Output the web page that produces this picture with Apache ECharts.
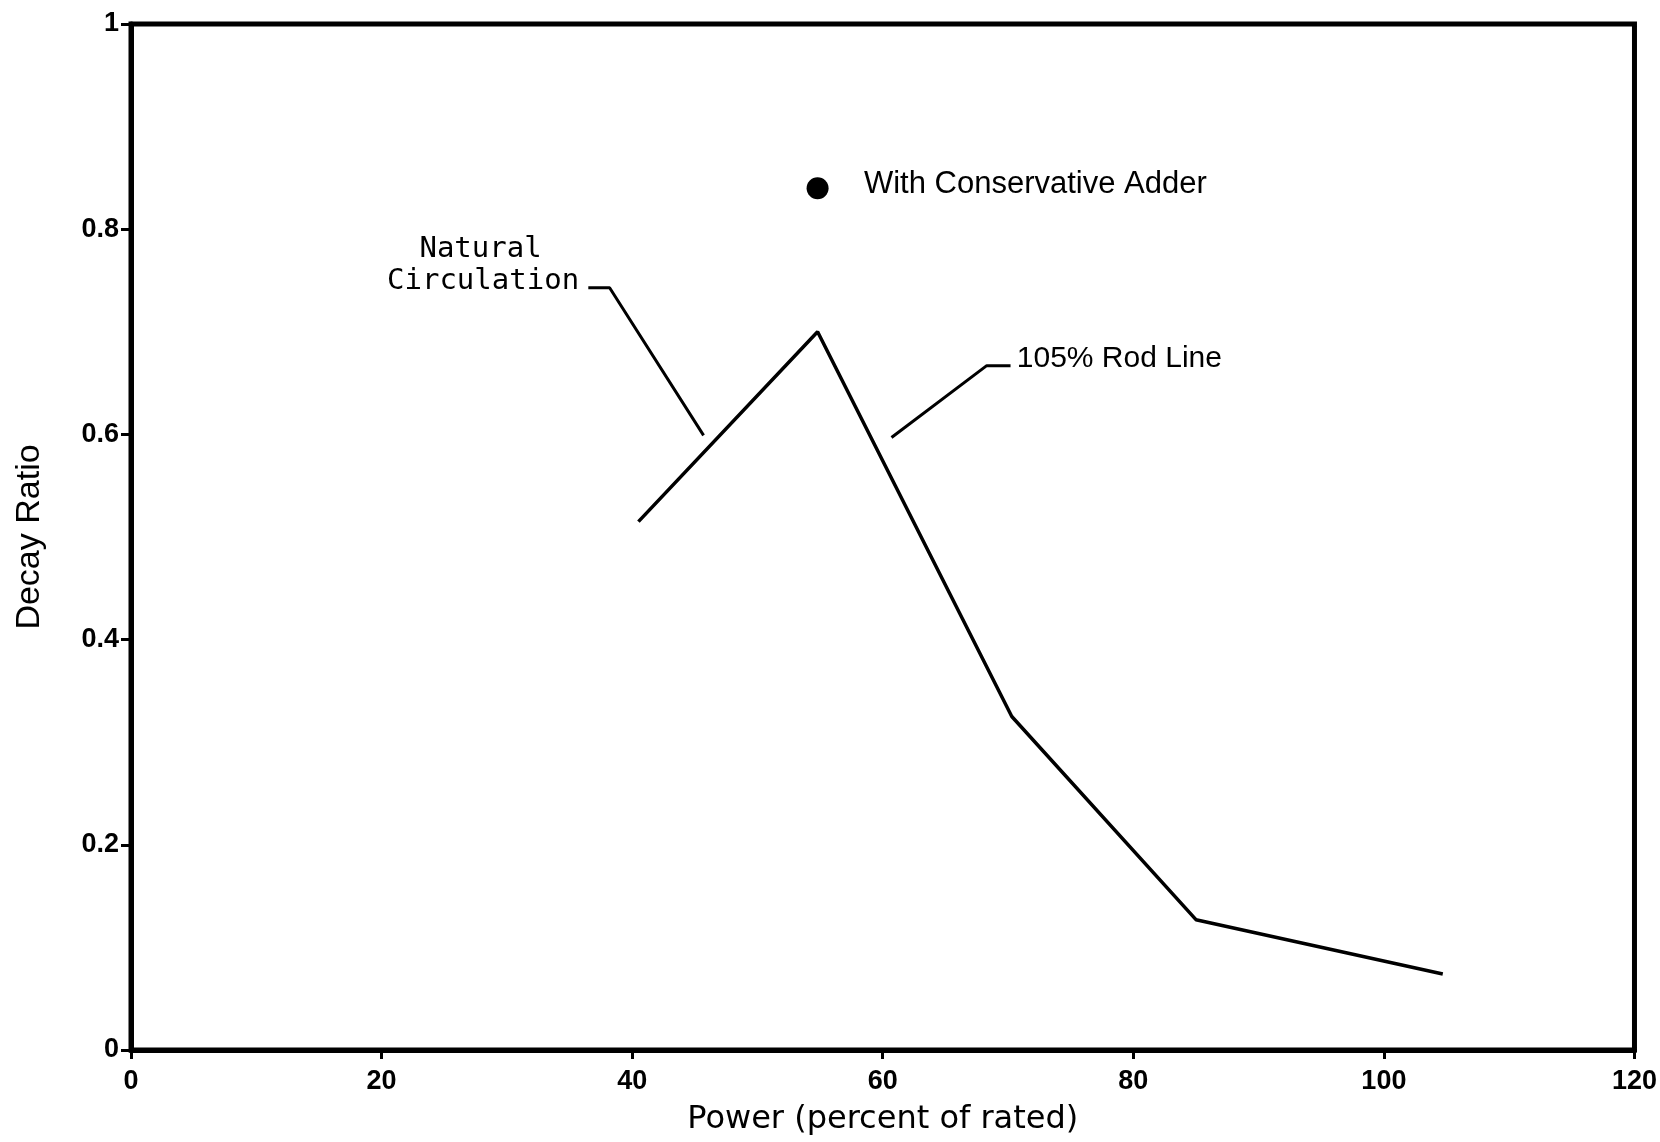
<!DOCTYPE html>
<html>
<head>
<meta charset="utf-8">
<script src="https://cdn.jsdelivr.net/npm/echarts@6/dist/echarts.min.js"></script>
<style>
html,body{margin:0;padding:0;background:#fff;}
#chart{width:1660px;height:1142px;}
</style>
</head>
<body>
<div id="chart"></div>
<script>
// ---- data ----
const powerPct   = [40.5, 54.8, 70.3, 85, 104.7];
const decayRatio = [0.515, 0.70, 0.325, 0.127, 0.074];
const adderPoint = [[54.8, 0.84]];
// annotation leader lines (data units)
const ncLeader  = [[36.5, 0.743], [38.2, 0.743], [45.7, 0.599]];
const rodLeader = [[70.2, 0.667], [68.3, 0.667], [60.7, 0.597]];
// annotation texts (data units anchors)
const annNatural  = {text: 'Natural',      at: [27.9, 0.780]};
const annCirc     = {text: 'Circulation',  at: [28.1, 0.749]};
const annAdder    = {text: 'With Conservative Adder', at: [58.5, 0.844]};
const annRod      = {text: '105% Rod Line', at: [70.7, 0.674]};
const xAxisName = 'Power (percent of rated)';
const yAxisName = 'Decay Ratio';

const chart = echarts.init(document.getElementById('chart'), null, {renderer: 'canvas'});
const lineData = powerPct.map((p, i) => [p, decayRatio[i]]);

const option = {
  backgroundColor: '#fff',
  animation: false,
  grid: {left: 131, right: 25, top: 24, bottom: 92, show: true, borderColor: '#000', borderWidth: 5, backgroundColor: 'transparent'},
  xAxis: {
    type: 'value', min: 0, max: 120, interval: 20,
    axisLine: {lineStyle: {color: '#000', width: 5}},
    axisTick: {inside: false, length: 9, lineStyle: {color: '#000', width: 3}},
    splitLine: {show: false},
    axisLabel: {color: '#000', fontSize: 27, fontWeight: 'bold', fontFamily: 'Liberation Sans', margin: 18},
    name: xAxisName, nameLocation: 'middle', nameGap: 54,
    nameTextStyle: {color: '#000', fontSize: 32, fontFamily: 'DejaVu Sans'}
  },
  yAxis: {
    type: 'value', min: 0, max: 1, interval: 0.2,
    axisLine: {lineStyle: {color: '#000', width: 5}},
    axisTick: {inside: false, length: 10, lineStyle: {color: '#000', width: 3}},
    splitLine: {show: false},
    axisLabel: {color: '#000', fontSize: 27, fontWeight: 'bold', fontFamily: 'Liberation Sans', margin: 12},
    name: yAxisName, nameLocation: 'middle', nameGap: 84, nameRotate: 90,
    nameTextStyle: {color: '#000', fontSize: 34, fontFamily: 'Liberation Sans'}
  },
  series: [
    {type: 'line', data: lineData, showSymbol: false, symbol: 'none',
     lineStyle: {color: '#000', width: 3.5}, z: 3},
    {type: 'scatter', data: adderPoint, symbol: 'circle', symbolSize: 22,
     itemStyle: {color: '#000', opacity: 1}, z: 4},
    {type: 'line', data: ncLeader, symbol: 'none', lineStyle: {color: '#000', width: 3}},
    {type: 'line', data: rodLeader, symbol: 'none', lineStyle: {color: '#000', width: 3}}
  ]
};
chart.setOption(option);

function px(pt) { return chart.convertToPixel({gridIndex: 0}, pt); }
const a1 = px(annNatural.at), a2 = px(annCirc.at), a3 = px(annAdder.at), a4 = px(annRod.at);
chart.setOption({
  graphic: [
    {type: 'text', x: a1[0], y: a1[1], style: {text: annNatural.text, fill: '#000', font: '29px "DejaVu Sans Mono"', textAlign: 'center', textVerticalAlign: 'middle'}},
    {type: 'text', x: a2[0], y: a2[1], style: {text: annCirc.text, fill: '#000', font: '29px "DejaVu Sans Mono"', textAlign: 'center', textVerticalAlign: 'middle'}},
    {type: 'text', x: a3[0], y: a3[1], style: {text: annAdder.text, fill: '#000', font: '31px "Liberation Sans"', textAlign: 'left', textVerticalAlign: 'middle'}},
    {type: 'text', x: a4[0], y: a4[1], style: {text: annRod.text, fill: '#000', font: '30px "Liberation Sans"', textAlign: 'left', textVerticalAlign: 'middle'}}
  ]
});
</script>
</body>
</html>
